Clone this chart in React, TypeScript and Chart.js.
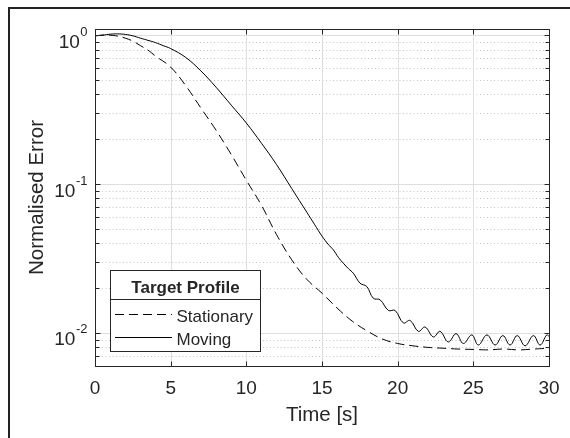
import React, { useEffect, useRef } from "react";
import { Chart, registerables } from "chart.js";

Chart.register(...registerables);

// ---------- data ----------
const xTickValues = [0, 5, 10, 15, 20, 25, 30];
const yMajorTicks = [1, 0.1, 0.01];
const yTickExponents = ["0", "-1", "-2"];
const yMinorTicks = [
  0.007, 0.008, 0.009,
  0.02, 0.03, 0.04, 0.05, 0.06, 0.07, 0.08, 0.09,
  0.2, 0.3, 0.4, 0.5, 0.6, 0.7, 0.8, 0.9,
];

const stationaryTime = [
  0, 0.5, 1, 1.5, 2, 2.5, 3, 3.5, 4, 5, 6, 7, 8, 9, 10, 11, 12, 13, 14, 15,
  16, 17, 18, 19, 20, 21, 22, 23, 24, 25, 26, 27, 28, 29, 30,
];
const stationaryError = [
  0.99, 1.0, 1.0, 0.985, 0.955, 0.912, 0.851, 0.794, 0.724, 0.61, 0.457,
  0.324, 0.23, 0.158, 0.106, 0.072, 0.0457, 0.031, 0.0229, 0.0185, 0.0147,
  0.012, 0.0103, 0.0091, 0.0085, 0.0082, 0.008, 0.0079, 0.0078, 0.00775,
  0.0077, 0.0078, 0.0077, 0.0078, 0.0079,
];

const movingTime = [
  0, 0.5, 1, 1.5, 2, 2.5, 3, 3.5, 4, 4.5, 5, 6, 7, 8, 9, 10, 11, 12, 13, 14,
  14.5, 15, 15.4, 15.75, 16.1, 16.41, 16.75, 17.07, 17.51, 17.96, 18.39,
  18.84, 19.39, 19.83, 20.38, 20.82, 21.37, 21.81, 22.36, 22.8, 23.35, 23.86,
  24.34, 24.9, 25.33, 25.9, 26.44, 26.95, 27.43, 27.9, 28.42, 28.97, 29.41,
  29.85, 30,
];
const movingError = [
  0.99, 1.0, 1.015, 1.02, 1.012, 0.99, 0.955, 0.923, 0.891, 0.851, 0.813,
  0.708, 0.575, 0.447, 0.339, 0.257, 0.188, 0.135, 0.0933, 0.0646, 0.0537,
  0.0447, 0.0395, 0.0361, 0.032, 0.0294, 0.027, 0.0252, 0.0216, 0.0205,
  0.0171, 0.0167, 0.01416, 0.01416, 0.01167, 0.01214, 0.01025, 0.01096,
  0.0094, 0.01025, 0.0087, 0.0099, 0.0085, 0.0097, 0.0083, 0.0097, 0.0083,
  0.0096, 0.0083, 0.0096, 0.0082, 0.0096, 0.0083, 0.0097, 0.0095,
];

const seriesLabels = ["Stationary", "Moving"];
const legendTitle = "Target Profile";
const xAxisTitle = "Time [s]";
const yAxisTitle = "Normalised Error";

// ---------- styles ----------
const FONT = '"Liberation Sans", Arial, Helvetica, sans-serif';
const INK = "#262626";

const matlabAxes = {
  id: "matlabAxes",
  beforeDraw(chart: any) {
    const { ctx, width, height } = chart;
    ctx.save();
    ctx.fillStyle = "#ffffff";
    ctx.fillRect(0, 0, width, height);
    // figure frame (left and top edges)
    ctx.fillStyle = "#222222";
    ctx.fillRect(8, 7, 2, height - 7);
    ctx.fillRect(8, 7, width - 8, 2);
    ctx.restore();
  },
  beforeDatasetsDraw(chart: any) {
    const { ctx, chartArea: a, scales } = chart;
    const x = scales.x;
    const y = scales.y;
    ctx.save();
    ctx.lineWidth = 1;
    // minor grid (dotted)
    ctx.strokeStyle = "#c4c4c4";
    ctx.setLineDash([1, 2.5]);
    for (const v of yMinorTicks) {
      const py = Math.round(y.getPixelForValue(v)) + 0.5;
      ctx.beginPath();
      ctx.moveTo(a.left, py);
      ctx.lineTo(a.right, py);
      ctx.stroke();
    }
    // major grid
    ctx.setLineDash([]);
    ctx.strokeStyle = "#dedede";
    for (const v of xTickValues) {
      if (v === xTickValues[0] || v === xTickValues[xTickValues.length - 1]) continue;
      const px = Math.round(x.getPixelForValue(v)) + 0.5;
      ctx.beginPath();
      ctx.moveTo(px, a.top);
      ctx.lineTo(px, a.bottom);
      ctx.stroke();
    }
    for (const v of yMajorTicks) {
      const py = Math.round(y.getPixelForValue(v)) + 0.5;
      ctx.beginPath();
      ctx.moveTo(a.left, py);
      ctx.lineTo(a.right, py);
      ctx.stroke();
    }
    ctx.restore();
  },
  afterDatasetsDraw(chart: any) {
    const { ctx, chartArea: a, scales } = chart;
    const x = scales.x;
    const y = scales.y;
    ctx.save();
    ctx.setLineDash([]);
    ctx.strokeStyle = INK;
    ctx.fillStyle = INK;
    ctx.lineWidth = 1;
    const L = Math.round(a.left) + 0.5;
    const R = Math.round(a.right) + 0.5;
    const T = Math.round(a.top) + 0.5;
    const B = Math.round(a.bottom) + 0.5;
    // ticks
    ctx.beginPath();
    for (const v of xTickValues) {
      const px = Math.round(x.getPixelForValue(v)) + 0.5;
      ctx.moveTo(px, B);
      ctx.lineTo(px, B - 5);
      ctx.moveTo(px, T);
      ctx.lineTo(px, T + 5);
    }
    for (const v of yMajorTicks) {
      const py = Math.round(y.getPixelForValue(v)) + 0.5;
      ctx.moveTo(L, py);
      ctx.lineTo(L + 5, py);
      ctx.moveTo(R, py);
      ctx.lineTo(R - 5, py);
    }
    for (const v of yMinorTicks) {
      const py = Math.round(y.getPixelForValue(v)) + 0.5;
      ctx.moveTo(L, py);
      ctx.lineTo(L + 4, py);
      ctx.moveTo(R, py);
      ctx.lineTo(R - 4, py);
    }
    ctx.stroke();
    // box
    ctx.strokeRect(L, T, R - L, B - T);

    // x tick labels
    ctx.font = `19px ${FONT}`;
    ctx.textAlign = "center";
    ctx.textBaseline = "alphabetic";
    for (const v of xTickValues) {
      ctx.fillText(String(v), x.getPixelForValue(v), a.bottom + 28);
    }
    // y tick labels 10^k
    ctx.textAlign = "left";
    yMajorTicks.forEach((v, i) => {
      const py = y.getPixelForValue(v);
      ctx.font = `19px ${FONT}`;
      const w1 = ctx.measureText("10").width;
      ctx.font = `13px ${FONT}`;
      const w2 = ctx.measureText(yTickExponents[i]).width;
      const x0 = a.left - 8 - w1 - w2;
      ctx.font = `19px ${FONT}`;
      ctx.fillText("10", x0, py + 12.5);
      ctx.font = `13px ${FONT}`;
      ctx.fillText(yTickExponents[i], x0 + w1 + 0.5, py + 0.5);
    });
    // axis titles
    ctx.font = `20.5px ${FONT}`;
    ctx.textAlign = "center";
    ctx.fillText(xAxisTitle, (a.left + a.right) / 2, a.bottom + 55);
    ctx.save();
    ctx.translate(43, (a.top + a.bottom) / 2);
    ctx.rotate(-Math.PI / 2);
    ctx.fillText(yAxisTitle, 0, 0);
    ctx.restore();

    // legend
    const lx = 110.5, ly = 270.5, lw = 150, lh = 81;
    ctx.fillStyle = "#ffffff";
    ctx.fillRect(lx, ly, lw, lh);
    ctx.strokeStyle = INK;
    ctx.strokeRect(lx, ly, lw, lh);
    ctx.beginPath();
    ctx.moveTo(lx, 299.5);
    ctx.lineTo(lx + lw, 299.5);
    ctx.stroke();
    ctx.fillStyle = INK;
    ctx.font = `bold 17px ${FONT}`;
    ctx.textAlign = "center";
    ctx.fillText(legendTitle, lx + lw / 2, 292.5);
    const rows = [314.5, 337.5];
    chart.data.datasets.forEach((ds: any, i: number) => {
      ctx.save();
      ctx.strokeStyle = ds.borderColor;
      ctx.lineWidth = ds.borderWidth;
      ctx.setLineDash(ds.borderDash || []);
      ctx.beginPath();
      ctx.moveTo(115, rows[i]);
      ctx.lineTo(172, rows[i]);
      ctx.stroke();
      ctx.restore();
      ctx.fillStyle = INK;
      ctx.font = `17px ${FONT}`;
      ctx.textAlign = "left";
      ctx.fillText(ds.label, 176.5, rows[i] + 7);
    });
    ctx.restore();
  },
};

export default function App() {
  const ref = useRef<HTMLCanvasElement | null>(null);
  useEffect(() => {
    if (!ref.current) return;
    const chart = new Chart(ref.current, {
      type: "line",
      data: {
        datasets: [
          {
            label: seriesLabels[0],
            data: stationaryTime.map((t, i) => ({ x: t, y: stationaryError[i] })),
            borderColor: "#000000",
            borderWidth: 1,
            borderDash: [9, 5],
            pointRadius: 0,
            tension: 0.4,
            fill: false,
          },
          {
            label: seriesLabels[1],
            data: movingTime.map((t, i) => ({ x: t, y: movingError[i] })),
            borderColor: "#000000",
            borderWidth: 1,
            pointRadius: 0,
            tension: 0.4,
            fill: false,
          },
        ],
      },
      options: {
        animation: false,
        responsive: false,
        maintainAspectRatio: false,
        devicePixelRatio: 1,
        events: [],
        layout: { padding: { left: 95, right: 21, top: 29, bottom: 72 } },
        plugins: { legend: { display: false }, tooltip: { enabled: false } },
        scales: {
          x: { type: "linear", min: 0, max: 30, display: false },
          y: { type: "logarithmic", min: 0.006, max: 1.1, display: false },
        },
      },
      plugins: [matlabAxes],
    } as any);
    return () => chart.destroy();
  }, []);
  return (
    <div style={{ position: "fixed", left: 0, top: 0, width: 570, height: 438, background: "#fff" }}>
      <canvas ref={ref} width={570} height={438} style={{ display: "block", width: 570, height: 438 }} />
    </div>
  );
}
